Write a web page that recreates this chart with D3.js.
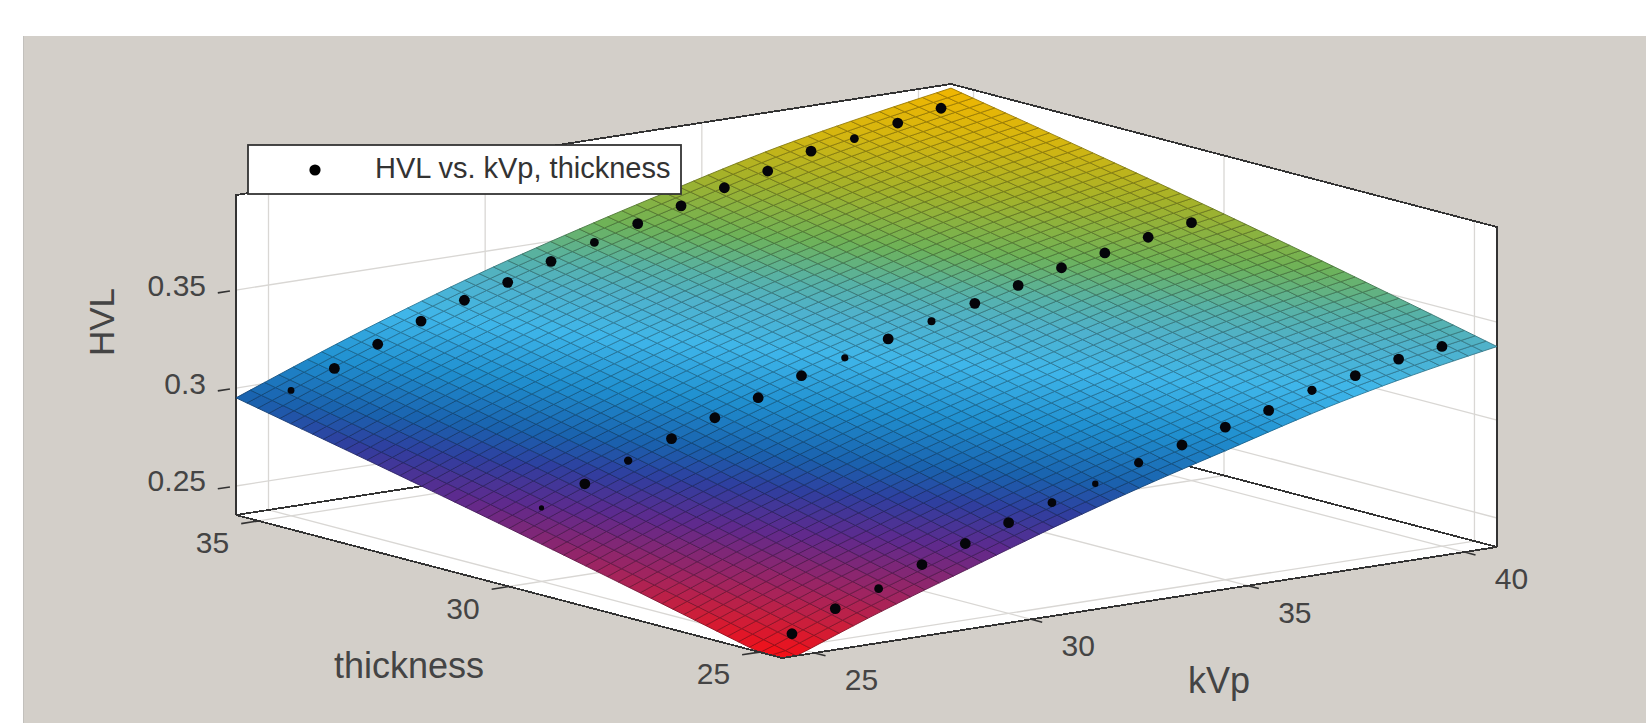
<!DOCTYPE html>
<html>
<head>
<meta charset="utf-8">
<script src="https://cdn.jsdelivr.net/npm/d3@7"></script>
<style>
html, body { margin: 0; padding: 0; background: #fff; overflow: hidden; }
text { font-family: "Liberation Sans", Arial, sans-serif; fill: #444; }
</style>
</head>
<body>
<div id="chart"></div>
<script>
var kVpValues = [25,26,27,28,29,30,31,32,33,34,35,36,37,38,39,40];
var thicknessRows = [25,30,35];
var hvlThin  = [0.2420,0.2514,0.2581,0.2670,0.2743,0.2815,0.2883,0.2945,0.3018,0.3074,0.3131,0.3182,0.3250,0.3291,0.3341,0.3371];
var hvlMid   = [0.2727,0.2816,0.2900,0.2978,0.3050,0.3118,0.3196,0.3253,0.3315,0.3371,0.3428,0.3485,0.3541,0.3582,0.3628,0.3668];
var hvlThick = [0.2992,0.3070,0.3159,0.3243,0.3315,0.3372,0.3445,0.3507,0.3569,0.3625,0.3683,0.3734,0.3801,0.3831,0.3876,0.3917];

// fitted surface, read along its edges and middle at these nodes
var surfKvp   = [24.25,26.3,28.4,30.4,32.5,34.6,36.6,38.7,40.75];
var surfEdgeThin  = [0.2323,0.2495,0.2650,0.2795,0.2940,0.3065,0.3190,0.3296,0.3375];
var surfEdgeMid   = [0.2655,0.2839,0.3005,0.3152,0.3285,0.3405,0.3518,0.3615,0.3695];
var surfEdgeThick = [0.2950,0.3124,0.3291,0.3429,0.3561,0.3683,0.3796,0.3887,0.3964];

var kVpTicks = [25,30,35,40];
var thicknessTicks = [25,30,35];
var hvlTicks = [0.25,0.3,0.35];
var hvlTickLabels = ["0.25","0.3","0.35"];

var colorStops = [0.2352,0.245,0.255,0.2727,0.285,0.295,0.31,0.325,0.337,0.345,0.356,0.371,0.384,0.397];
var colorValues = ["#f21018","#cc1e3a","#a3245e","#5e2a8e","#2f3f9f","#1a62ae","#2090d0","#3fb6ea","#4fb2cc","#57b2a8","#6eb258","#a4b22a","#d4b610","#f2b600"];

var width = 1646, height = 723;
var kDomain = [24.25,40.75], tDomain = [24.55,35.45], hDomain = [0.2352,0.3985];
var meshCells = 50;

var svg = d3.select("#chart").append("svg").attr("width", width).attr("height", height);

// axes box: front corner, then how far each axis runs on screen
var front = [782,658], kSpan = [715,-111], tSpan = [-546,-143], zSpan = 320;
var kScale = d3.scaleLinear().domain(kDomain).range([0,1]);
var tScale = d3.scaleLinear().domain(tDomain).range([0,1]);
var zScale = d3.scaleLinear().domain(hDomain).range([0,zSpan]).clamp(true);
var color = d3.scaleLinear().domain(colorStops).range(colorValues).clamp(true);
var line = d3.line();

function project(k, t, h) {
	var u = kScale(k), v = tScale(t);
	return [front[0] + u*kSpan[0] + v*tSpan[0], front[1] + u*kSpan[1] + v*tSpan[1] - zScale(h)];
}
function poly(points) { return line(points) + "Z"; }

// smooth the read nodes so the mesh has no kinks
var nodeIndex = d3.scaleLinear().domain(surfKvp).range(d3.range(surfKvp.length).map(function(i) { return i/(surfKvp.length-1); }));
var thinCurve = d3.interpolateBasis(surfEdgeThin), midCurve = d3.interpolateBasis(surfEdgeMid), thickCurve = d3.interpolateBasis(surfEdgeThick);
function surfaceAt(k, t) {
	var u = nodeIndex(k);
	return d3.interpolateBasis([thinCurve(u), midCurve(u), thickCurve(u)])(tScale(t));
}

// grey figure background
svg.append("rect").attr("x",24).attr("y",36).attr("width",width-24).attr("height",height-36).attr("fill","#d3cfc9");
svg.append("line").attr("x1",23.5).attr("x2",23.5).attr("y1",36).attr("y2",height).attr("stroke","#c2c0bc");

var kMin = kDomain[0], kMax = kDomain[1], tMin = tDomain[0], tMax = tDomain[1], hMin = hDomain[0], hMax = hDomain[1];

// white walls and floor
var walls = [
	[project(kMin,tMax,hMin),project(kMax,tMax,hMin),project(kMax,tMax,hMax),project(kMin,tMax,hMax)],
	[project(kMax,tMax,hMin),project(kMax,tMin,hMin),project(kMax,tMin,hMax),project(kMax,tMax,hMax)],
	[project(kMin,tMin,hMin),project(kMax,tMin,hMin),project(kMax,tMax,hMin),project(kMin,tMax,hMin)]
];
svg.append("g").selectAll("path").data(walls).enter().append("path")
	.attr("d", poly).attr("fill","#fff");

// grid lines
var gridLines = [];
kVpTicks.forEach(function(k) {
	gridLines.push([project(k,tMin,hMin),project(k,tMax,hMin)]);
	gridLines.push([project(k,tMax,hMin),project(k,tMax,hMax)]);
});
thicknessTicks.forEach(function(t) {
	gridLines.push([project(kMin,t,hMin),project(kMax,t,hMin)]);
	gridLines.push([project(kMax,t,hMin),project(kMax,t,hMax)]);
});
hvlTicks.forEach(function(h) {
	gridLines.push([project(kMin,tMax,h),project(kMax,tMax,h)]);
	gridLines.push([project(kMax,tMax,h),project(kMax,tMin,h)]);
});
svg.append("g").selectAll("path").data(gridLines).enter().append("path")
	.attr("d", line).attr("fill","none").attr("stroke","#d9d7d4").attr("stroke-width",1.3);

// dark box edges behind the surface
var backEdges = [
	[project(kMin,tMax,hMin),project(kMax,tMax,hMin),project(kMax,tMin,hMin)],
	[project(kMin,tMax,hMin),project(kMin,tMax,hMax),project(kMax,tMax,hMax),project(kMax,tMin,hMax),project(kMax,tMin,hMin)]
];
svg.append("g").selectAll("path").data(backEdges).enter().append("path")
	.attr("d", line).attr("fill","none").attr("stroke","#333").attr("stroke-width",1.8)
	.attr("shape-rendering","crispEdges");

// surface mesh
var cells = [];
d3.range(meshCells).forEach(function(i) {
	d3.range(meshCells).forEach(function(j) {
		var k0 = kMin + (kMax-kMin)*i/meshCells, k1 = kMin + (kMax-kMin)*(i+1)/meshCells;
		var t0 = tMin + (tMax-tMin)*j/meshCells, t1 = tMin + (tMax-tMin)*(j+1)/meshCells;
		cells.push({
			points: [project(k0,t0,surfaceAt(k0,t0)),project(k1,t0,surfaceAt(k1,t0)),project(k1,t1,surfaceAt(k1,t1)),project(k0,t1,surfaceAt(k0,t1))],
			mean: surfaceAt((k0+k1)/2,(t0+t1)/2)
		});
	});
});
svg.append("g").selectAll("path").data(cells).enter().append("path")
	.attr("d", function(d) { return poly(d.points); })
	.attr("fill", function(d) { return color(d.mean); })
	.attr("stroke", function(d) { return d3.color(color(d.mean)).darker(1.1); })
	.attr("stroke-width",0.9);

// front floor edges and ticks
svg.append("path").attr("d", line([project(kMin,tMax,hMin),project(kMin,tMin,hMin),project(kMax,tMin,hMin)]))
	.attr("fill","none").attr("stroke","#333").attr("stroke-width",1.8)
	.attr("shape-rendering","crispEdges");

var tickG = svg.append("g").attr("fill","none").attr("stroke","#333").attr("stroke-width",1.6);
kVpTicks.forEach(function(k) {
	tickG.append("path").attr("d", line([project(k,tMin,hMin),project(k,tMin-0.22,hMin)]));
});
thicknessTicks.forEach(function(t) {
	tickG.append("path").attr("d", line([project(kMin,t,hMin),project(kMin-0.4,t,hMin)]));
});
hvlTicks.forEach(function(h) {
	tickG.append("path").attr("d", line([project(kMin-0.42,tMax,h),project(kMin-0.14,tMax,h)]));
});

// measured dots, a few sink into the surface and show smaller
var pointRows = [hvlThin, hvlMid, hvlThick];
var sunkenDots = {"0-7":3.2,"0-2":4.4,"0-6":4.4,"0-12":4.6,"0-8":4.6,"1-0":2.6,"1-2":4.2,"1-7":3.6,"1-9":4,"2-0":3.4,"2-7":4.4,"2-13":4.4};
var dots = [];
thicknessRows.forEach(function(t, r) {
	kVpValues.forEach(function(k, i) {
		var p = project(k,t,pointRows[r][i]);
		dots.push({x: p[0], y: p[1], r: sunkenDots[r + "-" + i] || 5.4});
	});
});
svg.append("g").selectAll("circle").data(dots).enter().append("circle")
	.attr("cx", function(d) { return d.x; })
	.attr("cy", function(d) { return d.y; })
	.attr("r", function(d) { return d.r; })
	.attr("fill","#05050a");

// tick labels
svg.append("g").selectAll("text").data(kVpTicks).enter().append("text")
	.attr("x", function(d) { return project(d,tMin,hMin)[0] + 47; })
	.attr("y", function(d) { return project(d,tMin,hMin)[1] + 37; })
	.attr("text-anchor","middle").style("font-size","30px")
	.text(function(d) { return d; });
svg.append("g").selectAll("text").data(thicknessTicks).enter().append("text")
	.attr("x", function(d) { return project(kMin,d,hMin)[0] - 46; })
	.attr("y", function(d) { return project(kMin,d,hMin)[1] + 32; })
	.attr("text-anchor","middle").style("font-size","30px")
	.text(function(d) { return d; });
svg.append("g").selectAll("text").data(hvlTicks).enter().append("text")
	.attr("x", function(d) { return project(kMin,tMax,d)[0] - 30; })
	.attr("y", function(d) { return project(kMin,tMax,d)[1] + 5.5; })
	.attr("text-anchor","end").style("font-size","30px")
	.text(function(d, i) { return hvlTickLabels[i]; });

// axis titles
svg.append("text").attr("x",409).attr("y",678).attr("text-anchor","middle").style("font-size","36px").text("thickness");
svg.append("text").attr("x",1219).attr("y",693).attr("text-anchor","middle").style("font-size","36px").text("kVp");
svg.append("text").attr("transform","translate(114,322) rotate(-90)").attr("text-anchor","middle").style("font-size","35px").text("HVL");

// legend
var legend = svg.append("g");
legend.append("rect").attr("x",248).attr("y",145).attr("width",433).attr("height",49)
	.attr("fill","#fff").attr("stroke","#333").attr("stroke-width",1.8);
legend.append("circle").attr("cx",315).attr("cy",170).attr("r",5.6).attr("fill","#000");
legend.append("text").attr("x",375).attr("y",178).style("font-size","29px").style("fill","#333").text("HVL vs. kVp, thickness");
</script>
</body>
</html>
